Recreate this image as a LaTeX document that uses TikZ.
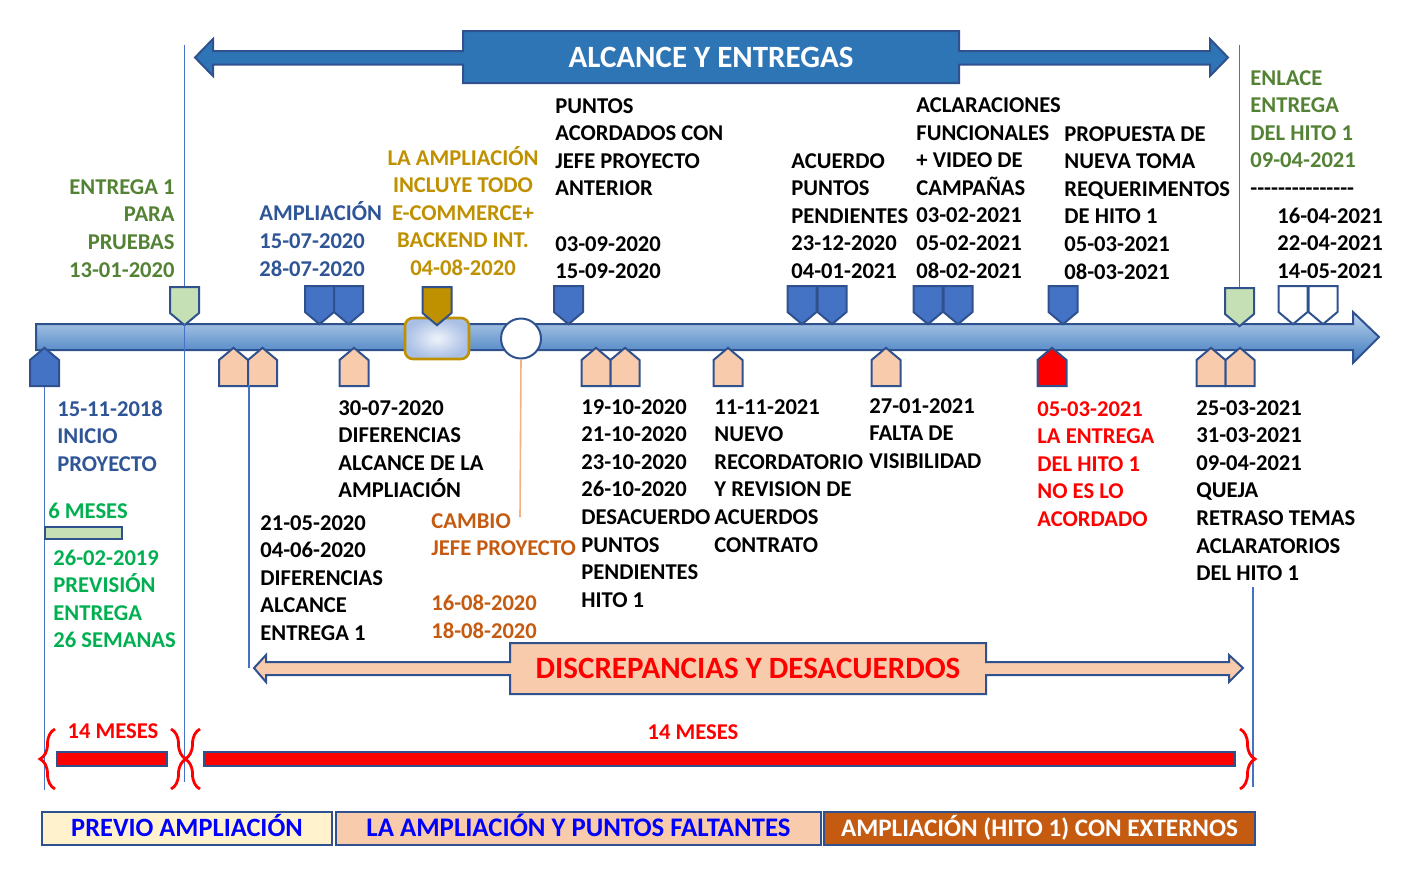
\documentclass[tikz,border=0pt]{standalone}
\usepackage{fontspec}
\setmainfont{Carlito}
\usetikzlibrary{shapes.symbols,decorations.pathreplacing}
\definecolor{mkline}{HTML}{2F528F}
\definecolor{mkblue}{HTML}{4472C4}
\definecolor{mkpeach}{HTML}{F8CBAD}
\definecolor{mkgreen}{HTML}{C5E0B4}
\definecolor{mkgold}{HTML}{BF9000}
\definecolor{alcfill}{HTML}{2E75B6}
\definecolor{tltop}{HTML}{BDD4EE}
\definecolor{tlbot}{HTML}{3A76BC}
\definecolor{txgreen}{HTML}{548235}
\definecolor{txblue}{HTML}{2F5597}
\definecolor{txlime}{HTML}{00B050}
\definecolor{txorange}{HTML}{C55A11}
\definecolor{txband}{HTML}{0000FF}
\definecolor{guide}{HTML}{4472C4}
\definecolor{guideorange}{HTML}{F4B183}
\definecolor{cream}{HTML}{FFF2CC}
\definecolor{glowin}{HTML}{EEF3FA}
\definecolor{glowout}{HTML}{A9BFE5}
\newcommand\lblfont{\bfseries\fontsize{11.3}{13.8}\selectfont}
\newcommand\ttlfont{\bfseries\fontsize{15.5}{18}\selectfont}
\newcommand\bandfont{\bfseries\fontsize{13.2}{15}\selectfont}
\newcommand\guion{-\kern0pt}
\begin{document}
\begin{tikzpicture}[x=0.5pt, y=-0.5pt,
  txt/.style={font=\lblfont, align=left, inner sep=0pt, anchor=base west},
  mk/.style={signal, signal from=nowhere, signal pointer angle=100, draw=mkline, line width=1pt,
    minimum width=14.5pt, minimum height=13pt, inner sep=0pt},
  mkdown/.style={mk, signal to=south, anchor=north},
  mkup/.style={mk, signal to=north, anchor=south},
  guideline/.style={draw=guide, line width=0.7pt},
  bigarrow/.style={draw=mkline, line width=1pt},
  bracered/.style={draw=red, line width=1.4pt, decorate, decoration={brace, amplitude=7.5pt}},
  title/.style={font=\ttlfont, text height=9.8pt, text depth=0pt, inner sep=0pt},
  band/.style={draw=mkline, line width=1pt, minimum height=16.5pt, font=\bandfont,
    text height=8.3pt, text depth=0pt, inner sep=0pt}]
  \useasboundingbox (0,0) rectangle (1409,885);

  \path[bigarrow, fill=alcfill] (195,57.5) -- (213,39) -- (213,51) -- (463,51) -- (463,31) -- (959,31)
    -- (959,51) -- (1210,51) -- (1210,39) -- (1228,57.5) -- (1210,76) -- (1210,64.5) -- (959,64.5)
    -- (959,83) -- (463,83) -- (463,64.5) -- (213,64.5) -- (213,76) -- cycle;
  \node[title, text=white] (alcance) at (711,57.5) {ALCANCE Y ENTREGAS};

  \path[bigarrow, top color=tltop, bottom color=tlbot] (36,324) -- (1353,324) -- (1353,312)
    -- (1379,337) -- (1353,363) -- (1353,350) -- (36,350) -- cycle;
  \node[draw=mkgold, line width=1.3pt, rounded corners=4pt, inner color=glowin, outer color=glowout,
    minimum width=32pt, minimum height=20.5pt, inner sep=0pt] (hito) at (437,338.5) {};
  \node[circle, draw=mkline, fill=white, line width=1pt, minimum size=20pt, inner sep=0pt] (circ) at (521,338.5) {};

  \node[mkdown, fill=mkgreen] (mA) at (184.5,286) {};
  \node[mkdown, fill=mkblue] (mB1) at (319.5,285) {};
  \node[mkdown, fill=mkblue] (mB2) at (348.5,285) {};
  \node[mkdown, fill=mkgold] (mC) at (437,286) {};
  \node[mkdown, fill=mkblue] (mD) at (568.5,285) {};
  \node[mkdown, fill=mkblue] (mE1) at (802,285) {};
  \node[mkdown, fill=mkblue] (mE2) at (832,285) {};
  \node[mkdown, fill=mkblue] (mF1) at (928,285) {};
  \node[mkdown, fill=mkblue] (mF2) at (958,285) {};
  \node[mkdown, fill=mkblue] (mG) at (1063,285) {};
  \node[mkdown, fill=mkgreen] (mH) at (1239.5,287) {};
  \node[mkdown, fill=white] (mI1) at (1293,285) {};
  \node[mkdown, fill=white] (mI2) at (1323,285) {};

  \node[mkup, fill=mkblue] (nA) at (44.5,387) {};
  \node[mkup, fill=mkpeach] (nB1) at (233.5,387) {};
  \node[mkup, fill=mkpeach] (nB2) at (262.5,387) {};
  \node[mkup, fill=mkpeach] (nC) at (354,387) {};
  \node[mkup, fill=mkpeach] (nD1) at (596,387) {};
  \node[mkup, fill=mkpeach] (nD2) at (625,387) {};
  \node[mkup, fill=mkpeach] (nE) at (728,387) {};
  \node[mkup, fill=mkpeach] (nF) at (886,387) {};
  \node[mkup, fill=red] (nG) at (1052,387) {};
  \node[mkup, fill=mkpeach] (nH1) at (1211,387) {};
  \node[mkup, fill=mkpeach] (nH2) at (1240,387) {};

  \coordinate (alcL) at (184.5,45);
  \coordinate (alcR) at (1239.5,45);
  \coordinate (tlTop) at (0,324);
  \coordinate (brBot) at (0,790);
  \coordinate (discL) at (254,668);
  \coordinate (cambioTop) at (520,517);
  \coordinate (finTop) at (1253,587);
  \coordinate (finBot) at (1253,787);
  \draw[guideline] (alcL) -- (mA.north);
  \draw[guideline] (mA |- tlTop) -- ++(0,458);
  \draw[guideline] (alcR) -- (mH.north);
  \draw[guideline] (nA.south) -- (nA |- brBot);
  \draw[guideline] (nB1.south east) -- (nB1.south east |- discL);
  \draw[guideline] (finTop) -- (finBot);
  \draw[draw=guideorange, line width=0.8pt] (circ.south) -- (cambioTop);

  \node[txt, anchor=base east, align=right, text=txgreen] (entrega) at (175,277) {ENTREGA 1\\PARA\\PRUEBAS\\13-01-2020};
  \node[txt, text=txblue] (ampliacion) at (259,276) {AMPLIACIÓN\\15-07-2020\\28-07-2020};
  \node[txt, anchor=base, align=center, text=mkgold] (incluye) at (463,275.4) {LA AMPLIACIÓN\\INCLUYE TODO\\E-COMMERCE+\\BACKEND INT.\\04-08-2020};
  \node[txt] (acordados) at (555,278.6) {PUNTOS\\ACORDADOS CON\\JEFE PROYECTO\\ANTERIOR\\[13.8pt]03-09-2020\\15-09-2020};
  \node[txt] (acuerdo) at (791,278.4) {ACUERDO\\PUNTOS\\PENDIENTES\\23-12-2020\\04-01-2021};
  \node[txt] (aclaraciones) at (916,278) {ACLARACIONES\\FUNCIONALES\\+ VIDEO DE\\CAMPAÑAS\\03-02-2021\\05-02-2021\\08-02-2021};
  \node[txt] (propuesta) at (1064,279) {PROPUESTA DE\\NUEVA TOMA\\REQUERIMENTOS\\DE HITO 1\\05-03-2021\\08-03-2021};
  \node[txt, text=txgreen] (enlace) at (1250,167.8) {ENLACE\\ENTREGA\\DEL HITO 1\\09-04-2021};
  \node[txt] (raya) at (1250,195) {\guion\guion\guion\guion\guion\guion\guion\guion\guion\guion\guion\guion\guion\guion\guion};
  \node[txt] (posteriores) at (1277,278.2) {16-04-2021\\22-04-2021\\14-05-2021};

  \node[txt, text=txblue] (inicio) at (57,471.2) {15-11-2018\\INICIO\\PROYECTO};
  \node[txt, text=txlime] (seisMeses) at (48,518) {6 MESES};
  \path[fill=mkgreen, draw=mkline, line width=1pt] (45,527) rectangle (122,539);
  \node[txt, text=txlime] (prevision) at (53,647.8) {26-02-2019\\PREVISIÓN\\ENTREGA\\26 SEMANAS};
  \node[txt] (difAmpliacion) at (338,497.8) {30-07-2020\\DIFERENCIAS\\ALCANCE DE LA\\AMPLIACIÓN};
  \node[txt] (difEntrega) at (260,640.4) {21-05-2020\\04-06-2020\\DIFERENCIAS\\ALCANCE\\ENTREGA 1};
  \node[txt, text=txorange] (cambio) at (431,638.4) {CAMBIO\\JEFE PROYECTO\\[13.8pt]16-08-2020\\18-08-2020};
  \node[txt] (desacuerdo) at (581,607.2) {19-10-2020\\21-10-2020\\23-10-2020\\26-10-2020\\DESACUERDO\\PUNTOS\\PENDIENTES\\HITO 1};
  \node[txt] (recordatorio) at (714,552) {11-11-2021\\NUEVO\\RECORDATORIO\\Y REVISION DE\\ACUERDOS\\CONTRATO};
  \node[txt] (visibilidad) at (869,468.2) {27-01-2021\\FALTA DE\\VISIBILIDAD};
  \node[txt, text=red] (noAcordado) at (1037,526.4) {05-03-2021\\LA ENTREGA\\DEL HITO 1\\NO ES LO\\ACORDADO};
  \node[txt] (queja) at (1196,580.6) {25-03-2021\\31-03-2021\\09-04-2021\\QUEJA\\RETRASO TEMAS\\ACLARATORIOS\\DEL HITO 1};

  \path[bigarrow, fill=mkpeach] (254,668) -- (266,655) -- (266,662) -- (510,662) -- (510,643) -- (986,643)
    -- (986,662) -- (1229,662) -- (1229,655) -- (1243,668) -- (1229,682) -- (1229,675) -- (986,675)
    -- (986,694) -- (510,694) -- (510,675) -- (266,675) -- (266,682) -- cycle;
  \node[title, text=red] (discrepancias) at (748,668.5) {DISCREPANCIAS Y DESACUERDOS};

  \draw[bracered] (55,789) -- (55,729);
  \draw[bracered] (171,729) -- (171,789);
  \draw[bracered] (200,789) -- (200,729);
  \draw[bracered] (1240,729) -- (1240,789);
  \path[fill=red, draw=mkline, line width=0.8pt] (57,752) rectangle (167,766);
  \path[fill=red, draw=mkline, line width=0.8pt] (204,752) rectangle (1235,766);
  \node[txt, anchor=base, text=red] (mesesPrevio) at (113,738) {14 MESES};
  \node[txt, anchor=base, text=red] (mesesAmpl) at (693,739) {14 MESES};

  \node[band, fill=cream, text=txband, minimum width=145pt] (bPrevio) at (187,828.5) {PREVIO AMPLIACIÓN};
  \node[band, fill=mkpeach, text=txband, minimum width=242.5pt, font=\bfseries\fontsize{13.4}{15}\selectfont] (bFaltantes) at (578.5,828.5) {LA AMPLIACIÓN Y PUNTOS FALTANTES};
  \node[band, fill=txorange, text=white, minimum width=215.5pt, font=\bfseries\fontsize{12.6}{15}\selectfont] (bExternos) at (1039.5,828.5) {AMPLIACIÓN (HITO 1) CON EXTERNOS};
\end{tikzpicture}
\end{document}
